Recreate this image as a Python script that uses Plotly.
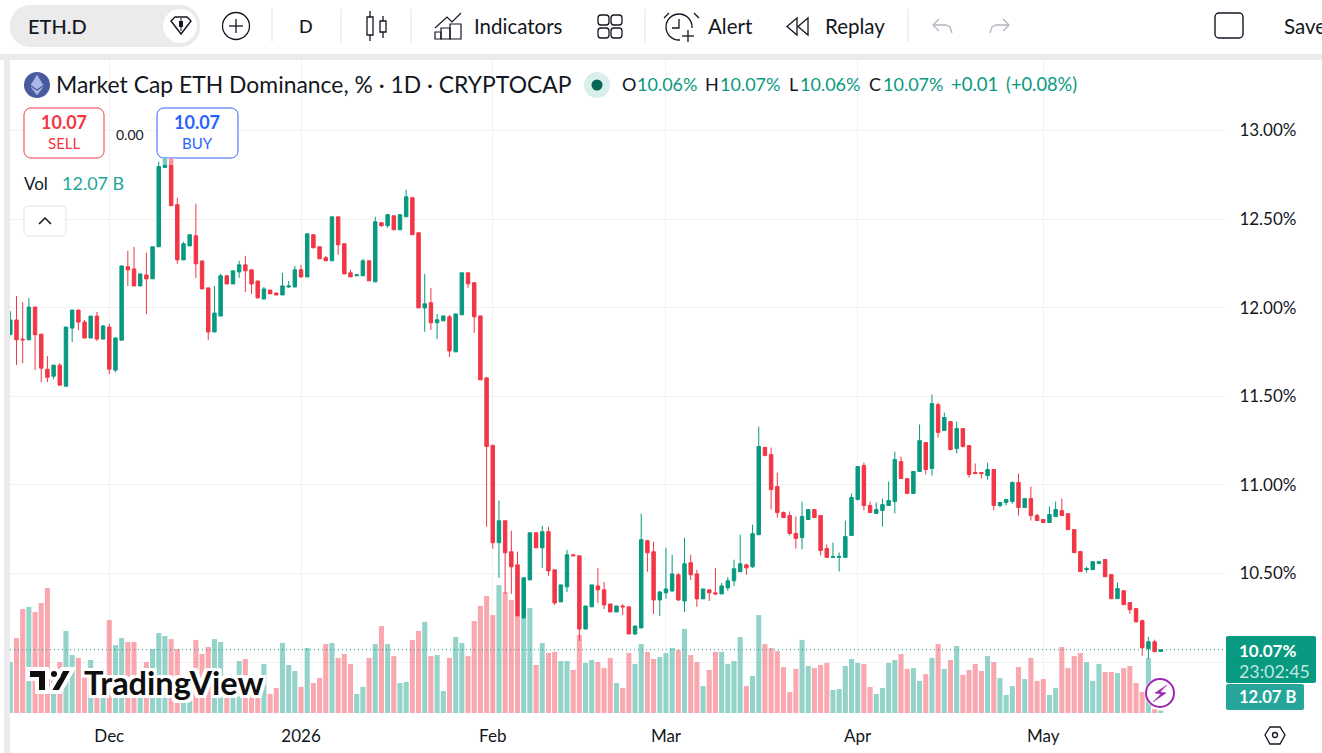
import pandas as pd
import plotly.graph_objects as go

# Daily ETH dominance candles, in percent
opens = [
    11.848,11.931,11.823,11.819,12.004,11.851,11.653,11.614,11.676,11.557,
    11.885,11.987,11.919,11.829,11.953,11.823,11.891,11.648,11.817,12.231,
    12.219,12.123,12.185,12.163,12.344,12.791,12.874,12.581,12.270,12.349,
    12.406,12.264,12.112,11.863,11.953,12.180,12.134,12.202,12.242,12.214,
    12.151,12.049,12.100,12.083,12.072,12.117,12.117,12.214,12.174,12.412,
    12.344,12.282,12.265,12.513,12.361,12.197,12.180,12.180,12.265,12.146,
    12.480,12.463,12.519,12.440,12.513,12.621,12.423,11.999,12.028,11.915,
    11.926,11.949,11.751,11.960,12.197,12.141,11.954,11.604,11.223,10.674,
    10.798,10.623,10.549,10.249,10.464,10.730,10.645,10.736,10.521,10.340,
    10.425,10.606,10.600,10.187,10.312,10.430,10.408,10.328,10.283,10.317,
    10.312,10.159,10.193,10.685,10.623,10.351,10.391,10.402,10.493,10.345,
    10.561,10.498,10.357,10.408,10.391,10.385,10.419,10.459,10.510,10.549,
    10.538,10.719,11.212,11.171,10.991,10.844,10.827,10.726,10.703,10.805,
    10.861,10.827,10.641,10.591,10.591,10.591,10.715,10.918,11.109,10.884,
    10.839,10.856,10.884,10.906,11.132,11.036,10.952,11.076,11.239,11.093,
    11.453,11.307,11.358,11.205,11.318,11.222,11.070,11.070,11.053,11.087,
    10.884,10.901,10.906,11.014,10.873,10.923,10.827,10.805,10.788,10.821,
    10.855,10.838,10.748,10.624,10.522,10.522,10.556,10.579,10.494,10.358,
    10.403,10.336,10.302,10.234,10.076,10.115,10.06,
]
closes = [
    11.931,11.819,11.819,12.004,11.848,11.659,11.608,11.676,11.563,11.891,
    11.987,11.919,11.829,11.953,11.823,11.897,11.653,11.829,12.236,12.214,
    12.123,12.191,12.163,12.344,12.797,12.874,12.576,12.270,12.361,12.412,
    12.248,12.106,11.863,11.970,12.180,12.134,12.208,12.242,12.208,12.134,
    12.055,12.106,12.078,12.072,12.123,12.123,12.214,12.174,12.417,12.338,
    12.276,12.265,12.513,12.355,12.191,12.174,12.186,12.265,12.152,12.485,
    12.463,12.525,12.440,12.525,12.626,12.412,11.999,12.022,11.915,11.932,
    11.954,11.756,11.965,12.197,12.135,11.949,11.593,11.217,10.674,10.798,
    10.617,10.538,10.261,10.476,10.730,10.645,10.736,10.515,10.334,10.436,
    10.606,10.600,10.187,10.317,10.436,10.408,10.323,10.283,10.317,10.312,
    10.159,10.204,10.691,10.617,10.351,10.396,10.413,10.498,10.351,10.555,
    10.493,10.357,10.413,10.391,10.385,10.430,10.459,10.527,10.555,10.532,
    10.725,11.217,11.166,10.974,10.844,10.816,10.726,10.698,10.822,10.861,
    10.816,10.630,10.591,10.596,10.596,10.709,10.929,11.104,10.884,10.844,
    10.861,10.889,10.912,11.143,11.036,10.952,11.076,11.250,11.087,11.459,
    11.296,11.380,11.200,11.318,11.217,11.059,11.064,11.064,11.087,10.884,
    10.901,10.918,11.014,10.873,10.923,10.827,10.799,10.788,10.833,10.861,
    10.827,10.748,10.618,10.511,10.528,10.567,10.567,10.482,10.358,10.415,
    10.324,10.296,10.228,10.081,10.115,10.059,10.07,
]
highs = [
    11.981,12.066,12.032,12.055,12.004,11.851,11.727,11.676,11.687,11.891,
    11.987,11.987,11.931,11.953,11.976,11.902,11.908,11.834,12.236,12.321,
    12.344,12.191,12.310,12.344,12.825,12.893,12.893,12.621,12.372,12.412,
    12.587,12.264,12.112,12.123,12.191,12.185,12.208,12.265,12.293,12.214,
    12.151,12.117,12.100,12.083,12.197,12.151,12.236,12.242,12.417,12.412,
    12.344,12.293,12.513,12.513,12.361,12.214,12.191,12.276,12.265,12.513,
    12.480,12.530,12.519,12.525,12.666,12.621,12.423,12.191,12.112,11.965,
    11.954,11.960,11.965,12.197,12.197,12.141,11.954,11.610,11.228,10.912,
    10.798,10.742,10.623,10.476,10.730,10.730,10.770,10.764,10.521,10.436,
    10.634,10.606,10.600,10.317,10.436,10.532,10.453,10.328,10.317,10.328,
    10.312,10.204,10.838,10.691,10.679,10.402,10.645,10.606,10.504,10.702,
    10.606,10.521,10.413,10.408,10.532,10.447,10.481,10.578,10.719,10.555,
    10.776,11.330,11.212,11.211,11.070,10.850,10.850,10.822,10.906,10.861,
    10.861,10.827,10.664,10.675,10.619,10.799,10.952,11.104,11.126,10.906,
    10.901,10.923,11.019,11.188,11.160,11.036,11.076,11.341,11.239,11.510,
    11.465,11.408,11.358,11.358,11.318,11.222,11.121,11.070,11.126,11.087,
    10.901,10.918,11.019,11.064,10.923,10.991,10.838,10.805,10.878,10.906,
    10.923,10.838,10.748,10.624,10.539,10.567,10.567,10.579,10.494,10.449,
    10.403,10.336,10.307,10.240,10.143,10.127,10.07,
]
lows = [
    11.848,11.676,11.687,11.819,11.648,11.580,11.580,11.597,11.563,11.557,
    11.806,11.874,11.829,11.829,11.812,11.823,11.625,11.636,11.817,12.123,
    12.123,12.123,11.964,12.163,12.344,12.791,12.576,12.248,12.270,12.349,
    12.168,12.106,11.817,11.863,11.953,12.134,12.134,12.168,12.089,12.078,
    12.055,12.049,12.078,12.072,12.072,12.112,12.117,12.169,12.174,12.338,
    12.276,12.265,12.265,12.299,12.191,12.174,12.180,12.180,12.152,12.146,
    12.457,12.451,12.440,12.440,12.513,12.412,11.999,11.864,11.875,11.824,
    11.926,11.723,11.751,11.960,12.112,11.858,11.593,10.764,10.640,10.476,
    10.385,10.385,10.261,10.249,10.464,10.645,10.532,10.487,10.323,10.340,
    10.396,10.600,10.119,10.187,10.312,10.334,10.300,10.283,10.283,10.266,
    10.159,10.153,10.193,10.510,10.272,10.261,10.357,10.396,10.345,10.283,
    10.464,10.312,10.357,10.345,10.379,10.385,10.402,10.430,10.510,10.493,
    10.532,10.719,11.161,10.861,10.816,10.816,10.715,10.641,10.636,10.805,
    10.816,10.602,10.591,10.591,10.512,10.591,10.715,10.912,10.856,10.844,
    10.839,10.765,10.884,10.839,11.036,10.952,10.952,11.076,11.059,11.053,
    11.267,11.307,11.194,11.177,11.211,11.042,11.064,11.036,11.030,10.856,
    10.873,10.884,10.895,10.827,10.873,10.799,10.799,10.788,10.788,10.821,
    10.827,10.748,10.618,10.511,10.505,10.522,10.556,10.482,10.358,10.358,
    10.324,10.273,10.223,10.036,10.019,10.059,10.06,
]
# Daily volume, in billions
volumes = [
    246,362,502,512,488,531,604,159,246,396,
    280,266,174,256,111,87,449,328,362,343,
    343,159,246,309,386,372,357,309,71,63,
    353,285,319,357,343,95,95,251,261,159,
    159,237,92,121,338,232,203,126,314,145,
    169,333,338,266,285,237,92,126,266,333,
    420,333,275,145,150,353,396,440,275,280,
    106,266,367,338,275,444,517,565,473,618,
    584,546,469,459,507,232,338,290,295,251,
    251,208,377,242,256,246,217,266,145,121,
    290,237,333,295,261,270,290,314,304,406,
    280,246,130,208,295,295,237,251,367,130,
    179,473,333,314,299,222,101,213,353,227,
    217,232,242,111,116,227,261,242,237,126,
    92,121,242,256,285,213,217,155,188,266,
    333,213,256,324,184,208,237,203,275,246,
    169,87,130,222,164,266,155,164,87,121,
    319,217,275,290,246,155,237,198,198,193,
    217,227,145,101,266,18,12.07,
]
dates = pd.date_range("2025-11-15", periods=len(closes), freq="D")
month_ticks = ["2025-12-01", "2026-01-01", "2026-02-01", "2026-03-01", "2026-04-01", "2026-05-01"]
month_labels = ["Dec", "2026", "Feb", "Mar", "Apr", "May"]
price_ticks = [10.0, 10.5, 11.0, 11.5, 12.0, 12.5, 13.0]
price_labels = ["", "10.50%", "11.00%", "11.50%", "12.00%", "12.50%", "13.00%"]

W, H = 1322, 753
UP, DOWN = "#089981", "#F23645"
INK = "#131722"
FONT = "Lato"


def fx(x):
    return x / W


def fy(y):
    return 1 - y / H


def poly(points, close=True):
    body = " L ".join(f"{fx(x):.5f},{fy(y):.5f}" for x, y in points)
    return "M " + body + (" Z" if close else "")


def line_shape(points, color=INK, width=1.3, close=False, fill=None):
    spec = dict(type="path", xref="paper", yref="paper", path=poly(points, close),
                line=dict(color=color, width=width), layer="above")
    if fill:
        spec["fillcolor"] = fill
    return spec


def box_shape(x0, y0, x1, y1, fill=None, color=None, width=1.0, radius=0, opacity=1):
    if radius:
        r = radius
        c = 0.45 * r
        path = (
            f"M {fx(x0+r):.5f},{fy(y0):.5f} L {fx(x1-r):.5f},{fy(y0):.5f} "
            f"C {fx(x1-c):.5f},{fy(y0):.5f} {fx(x1):.5f},{fy(y0+c):.5f} {fx(x1):.5f},{fy(y0+r):.5f} "
            f"L {fx(x1):.5f},{fy(y1-r):.5f} "
            f"C {fx(x1):.5f},{fy(y1-c):.5f} {fx(x1-c):.5f},{fy(y1):.5f} {fx(x1-r):.5f},{fy(y1):.5f} "
            f"L {fx(x0+r):.5f},{fy(y1):.5f} "
            f"C {fx(x0+c):.5f},{fy(y1):.5f} {fx(x0):.5f},{fy(y1-c):.5f} {fx(x0):.5f},{fy(y1-r):.5f} "
            f"L {fx(x0):.5f},{fy(y0+r):.5f} "
            f"C {fx(x0):.5f},{fy(y0+c):.5f} {fx(x0+c):.5f},{fy(y0):.5f} {fx(x0+r):.5f},{fy(y0):.5f} Z"
        )
        spec = dict(type="path", path=path)
    else:
        spec = dict(type="rect", x0=fx(x0), x1=fx(x1), y0=fy(y0), y1=fy(y1))
    spec.update(xref="paper", yref="paper", layer="above", opacity=opacity,
                line=dict(color=color or "rgba(0,0,0,0)", width=width if color else 0))
    if fill:
        spec["fillcolor"] = fill
    return spec


def disc(cx, cy, r, fill=None, color=None, width=1.3):
    spec = dict(type="circle", xref="paper", yref="paper", layer="above",
                x0=fx(cx - r), x1=fx(cx + r), y0=fy(cy - r), y1=fy(cy + r),
                line=dict(color=color or "rgba(0,0,0,0)", width=width if color else 0))
    if fill:
        spec["fillcolor"] = fill
    return spec


def label(x, y, text, size=15, color=INK, anchor="left", weight=400, font=FONT, shadow=None):
    f = dict(family=font, size=size, color=color, weight=weight)
    if shadow:
        f["shadow"] = shadow
    return dict(xref="paper", yref="paper", x=fx(x), y=fy(y), text=text, showarrow=False,
                xanchor=anchor, yanchor="middle", font=f, borderpad=0, borderwidth=0)


shapes, notes = [], []

# Window chrome around the chart panel
shapes += [
    box_shape(0, 54, W, 60, fill="#ebebeb"),
    box_shape(4, 54, 10, H, fill="#ebebeb"),
]

# Top toolbar
shapes += [
    box_shape(10, 5, 200, 47, fill="#ebebeb", radius=20),
    box_shape(163, 9, 197, 43, fill="#ffffff", radius=17),
    line_shape([(171, 21), (175, 17), (187, 17), (191, 21), (181, 34)], close=True, width=1.4),
    box_shape(179, 21, 183, 27, fill=INK),
    line_shape([(181, 18), (181, 31)], width=1),
    disc(236, 26, 13.5, color=INK, width=1.3),
    line_shape([(229, 26), (243, 26)]), line_shape([(236, 19), (236, 33)]),
]
for sep_x in (272, 341, 411, 645, 908):
    shapes.append(line_shape([(sep_x, 9), (sep_x, 42)], color="#ebebeb", width=1.5))
shapes += [
    box_shape(367, 17, 373, 35, color=INK, width=1.3, fill="#ffffff"),
    line_shape([(370, 11), (370, 17)]), line_shape([(370, 35), (370, 41)]),
    box_shape(380, 21, 386, 32, color=INK, width=1.3, fill="#ffffff"),
    line_shape([(383, 16), (383, 21)]), line_shape([(383, 32), (383, 38)]),
    box_shape(435, 32, 441, 39, color=INK, width=1.2),
    box_shape(441, 28, 450, 39, color=INK, width=1.2),
    box_shape(450, 24, 461, 39, color=INK, width=1.2),
    line_shape([(435, 28), (447, 17), (452, 22), (461, 13)], width=1.2),
]
for gx, gy in ((598, 15), (611, 15), (598, 28), (611, 28)):
    shapes.append(box_shape(gx, gy, gx + 11, gy + 10, color=INK, width=1.3, radius=3))
shapes += [
    disc(679, 27, 13, color=INK, width=1.3),
    line_shape([(664, 18), (669, 13)]), line_shape([(694, 13), (699, 18)]),
    line_shape([(679, 19), (679, 28), (672, 28)]),
    box_shape(680, 28, 697, 44, fill="#ffffff"),
    line_shape([(688, 30), (688, 42)]), line_shape([(682, 36), (694, 36)]),
    line_shape([(797, 18), (787, 26.5), (797, 35)], close=True),
    line_shape([(808, 18), (798, 26.5), (808, 35)], close=True),
    line_shape([(939, 19), (933, 25), (939, 31)], color="#b2b5be"),
    line_shape([(933, 25), (946, 25), (950, 27), (952, 33)], color="#b2b5be"),
    line_shape([(1003, 19), (1009, 25), (1003, 31)], color="#b2b5be"),
    line_shape([(1009, 25), (996, 25), (992, 27), (990, 33)], color="#b2b5be"),
    box_shape(1215, 13, 1243, 38, color=INK, width=1.4, radius=4),
]
notes += [
    label(28, 26, "ETH.D", 20, weight=500),
    label(306, 26, "D", 18, anchor="center", weight=500),
    label(474, 26, "Indicators", 20.5),
    label(708, 26, "Alert", 20.5),
    label(825, 26, "Replay", 20.5),
    label(1284, 26, "Save", 20.5),
]

# Legend row
shapes += [
    disc(37, 85, 13, fill="#4a5a9e"),
    line_shape([(37, 75), (43, 85), (37, 89), (31, 85)], close=True, color="#aab7e6", width=0.5, fill="#aab7e6"),
    line_shape([(37, 91), (43, 87), (37, 95), (31, 87)], close=True, color="#aab7e6", width=0.5, fill="#aab7e6"),
    disc(597, 85, 13, fill="#d9efeb"),
    disc(597, 85, 5.5, fill="#056656"),
]
last_close = closes[-1]
notes += [
    label(56, 84, "Market Cap ETH Dominance, % · 1D · CRYPTOCAP", 22.9),
    label(622, 84, "O", 18),
    label(637, 84, f"{opens[-1]:.2f}%", 18, color=UP),
    label(705, 84, "H", 18),
    label(720, 84, f"{highs[-1]:.2f}%", 18, color=UP),
    label(789, 84, "L", 18),
    label(800, 84, f"{lows[-1]:.2f}%", 18, color=UP),
    label(869, 84, "C", 18),
    label(883, 84, f"{last_close:.2f}%", 18, color=UP),
    label(951, 84, "+0.01", 18.5, color=UP),
    label(1006, 84, "(+0.08%)", 18.3, color=UP),
]

# Trade buttons, volume readout and collapse control
shapes += [
    box_shape(24, 108, 104, 158, fill="#ffffff", color=DOWN, width=1, radius=7),
    box_shape(157, 108, 238, 158, fill="#ffffff", color="#2962FF", width=1, radius=7),
    box_shape(161, 158, 175, 165, fill="#ffffff", opacity=0.45),
    box_shape(24, 206, 66, 236, fill="#ffffff", color="#e0e3eb", width=1, radius=4),
    line_shape([(39, 224), (45, 218), (51, 224)], width=1.5),
]
notes += [
    label(64, 122, f"{last_close:.2f}", 18, color=DOWN, anchor="center", weight=700),
    label(64, 143, "SELL", 15, color=DOWN, anchor="center"),
    label(130, 134, "0.00", 14, anchor="center"),
    label(197, 122, f"{last_close:.2f}", 18, color="#2962FF", anchor="center", weight=700),
    label(197, 143, "BUY", 15, color="#2962FF", anchor="center"),
    label(24, 183, "Vol", 17),
    label(62, 183, f"{volumes[-1]:.2f} B", 18, color="#26A69A"),
]

# Last price line across the plot
shapes.append(dict(type="line", xref="paper", yref="y2", x0=fx(10), x1=fx(1226),
                   y0=last_close, y1=last_close, layer="above",
                   line=dict(color=UP, width=1, dash="1px,3px")))

# Price and volume tags on the right scale
shapes += [
    box_shape(1226, 636, 1316, 683, fill=UP, radius=2),
    box_shape(1226, 684, 1304, 710, fill="#26A69A", radius=2),
]
notes += [
    label(1239, 650, f"{last_close:.2f}%", 17, color="#ffffff", weight=700),
    label(1239, 671, "23:02:45", 17.8, color="#c3e6e0"),
    label(1239, 697, f"{volumes[-1]:.2f} B", 16.6, color="#ffffff", weight=700),
]

# Flash button and scale settings
shapes += [
    disc(1160, 693, 15.5, fill="#ffffff"),
    disc(1160, 693, 14, color="#9c27b0", width=2, fill="#ffffff"),
    line_shape([(1167, 685), (1155, 693), (1161, 694), (1153, 702), (1166, 693), (1160, 692)],
               close=True, color="#9c27b0", width=0.5, fill="#9c27b0"),
    line_shape([(1270, 727), (1280, 727), (1285, 735), (1280, 744), (1270, 744), (1265, 735)],
               close=True, width=1.3),
    disc(1275, 735, 2.5, color=INK, width=1.3),
]

# Watermark
halo = ", ".join(f"{dx}px {dy}px 0 #fff" for dx in (-3, 0, 3) for dy in (-3, 0, 3))
mark_stroke = dict(color="#ffffff", width=4)
for pts in (
    [(28, 669), (47, 669), (47, 692), (37, 692), (37, 679), (28, 679)],
    [(62, 669), (73, 669), (60, 692), (49, 692)],
):
    shapes.append(dict(type="path", xref="paper", yref="paper", path=poly(pts), layer="above",
                       line=mark_stroke, fillcolor="#0f0f0f"))
shapes.append(dict(disc(54, 674, 5, fill="#0f0f0f"), line=mark_stroke))
notes.append(label(84, 682, "TradingView", 32.5, color="#0f0f0f", weight=700, shadow=halo))

bar_colors = ["rgba(8,153,129,0.43)" if c >= o else "rgba(242,54,69,0.43)"
              for o, c in zip(opens, closes)]

fig = go.Figure()
fig.add_trace(go.Bar(x=dates, y=volumes, marker=dict(color=bar_colors, line_width=0),
                     width=0.82 * 86400000, yaxis="y", hoverinfo="skip"))
fig.add_trace(go.Candlestick(
    x=dates, open=opens, high=highs, low=lows, close=closes, yaxis="y2",
    increasing=dict(line=dict(color=UP, width=1), fillcolor=UP),
    decreasing=dict(line=dict(color=DOWN, width=1), fillcolor=DOWN),
    whiskerwidth=0, hoverinfo="skip",
))

fig.update_layout(
    width=W, height=H, autosize=False, margin=dict(l=0, r=0, t=0, b=0),
    paper_bgcolor="#ffffff", plot_bgcolor="#ffffff", showlegend=False, hovermode=False,
    font=dict(family=FONT, color=INK), boxgap=0.2,
    xaxis=dict(
        domain=[fx(10), fx(1226)], type="date",
        range=["2025-11-14 22:48", "2026-05-30 13:00"],
        tickmode="array", tickvals=month_ticks, ticktext=month_labels,
        tickfont=dict(size=17, family=FONT, color=INK), ticks="outside", ticklen=8,
        tickcolor="rgba(0,0,0,0)", showgrid=True, gridcolor="#f2f2f2", gridwidth=1,
        showline=False, zeroline=False, rangeslider=dict(visible=False),
    ),
    yaxis=dict(
        domain=[fy(713), fy(60)], range=[0, 3154], visible=False, showgrid=False, zeroline=False,
    ),
    yaxis2=dict(
        domain=[fy(713), fy(60)], range=[9.713, 13.398], overlaying="y", side="right",
        anchor="x", tickmode="array", tickvals=price_ticks, ticktext=price_labels,
        tickfont=dict(size=17, family=FONT, color=INK), ticks="outside", ticklen=9,
        tickcolor="rgba(0,0,0,0)", showgrid=True, gridcolor="#f2f2f2", gridwidth=1,
        showline=False, zeroline=False,
    ),
    shapes=shapes, annotations=notes,
)

fig.write_html("out.html", config={"displayModeBar": False})
